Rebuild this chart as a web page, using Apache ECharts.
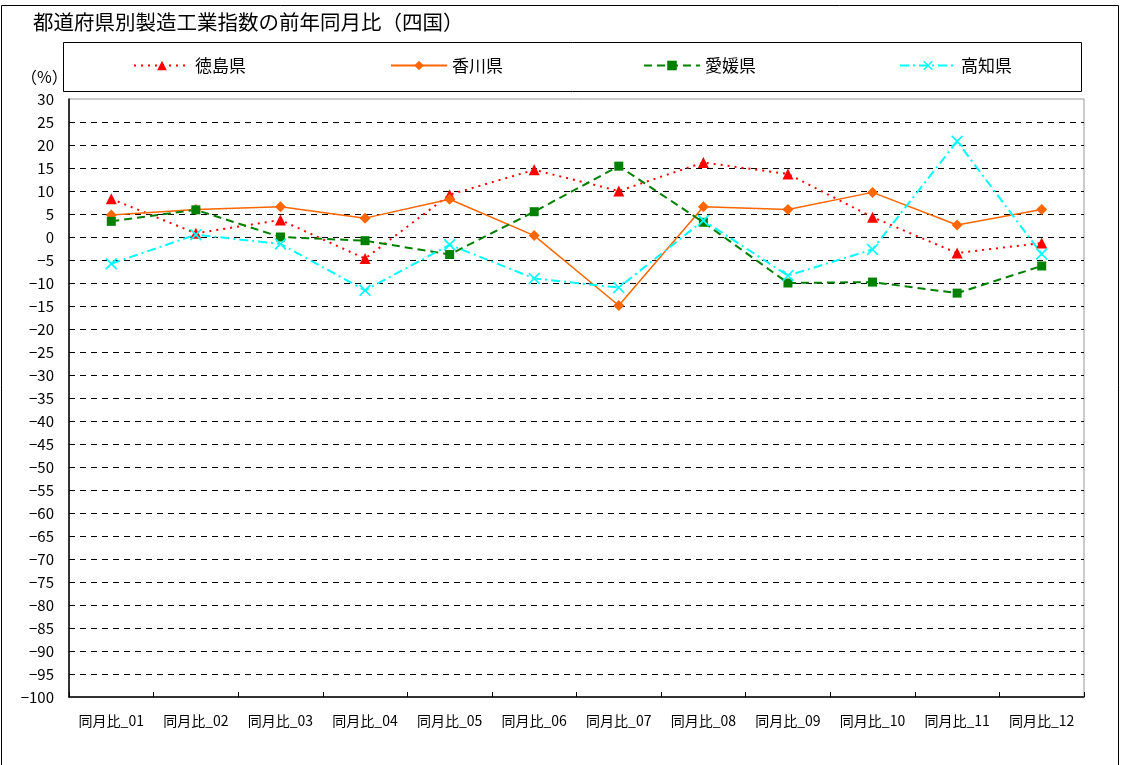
<!DOCTYPE html>
<html>
<head>
<meta charset="utf-8">
<script src="https://cdn.jsdelivr.net/npm/echarts@6/dist/echarts.min.js"></script>
<style>
  html, body { margin: 0; padding: 0; background: #fff; }
  #chart { width: 1122px; height: 765px; }
</style>
</head>
<body>
<div id="chart"></div>
<script>
// 月ラベル
const months = ['同月比_01', '同月比_02', '同月比_03', '同月比_04', '同月比_05', '同月比_06',
                '同月比_07', '同月比_08', '同月比_09', '同月比_10', '同月比_11', '同月比_12'];

// 前年同月比（%）
const tokushima = [8.3, 0.8, 3.7, -4.7, 9.2, 14.6, 10.0, 16.2, 13.7, 4.3, -3.5, -1.3];
const kagawa    = [4.8, 6.0, 6.6, 4.1, 8.2, 0.3, -14.9, 6.6, 6.0, 9.7, 2.6, 6.0];
const ehime     = [3.4, 5.9, 0.0, -0.8, -3.8, 5.5, 15.4, 3.2, -10.0, -9.8, -12.2, -6.3];
const kochi     = [-5.8, 0.5, -1.5, -11.6, -1.7, -9.0, -11.0, 3.6, -8.4, -2.7, 20.8, -3.7];

const seriesNames = ['徳島県', '香川県', '愛媛県', '高知県'];

// 縦軸の範囲
const yMin = -100, yMax = 30, yStep = 5;

const FONT = '"Noto Sans CJK JP", "Noto Sans", sans-serif';

// ×印マーカー
const crossPath = 'path://M0,1L1,0L5,4L9,0L10,1L6,5L10,9L9,10L5,6L1,10L0,9L4,5Z';

const chart = echarts.init(document.getElementById('chart'), null, { renderer: 'canvas' });

function legendAt(name, left) {
  return {
    data: [name],
    left: left,
    top: 57,
    padding: 0,
    itemWidth: 56,
    itemHeight: 12,
    itemGap: 8,
    textStyle: { fontFamily: FONT, fontSize: 17, color: '#000' },
    selectedMode: false
  };
}

const option = {
  backgroundColor: '#fff',
  animation: false,
  textStyle: { fontFamily: FONT },
  title: {
    text: '都道府県別製造工業指数の前年同月比（四国）',
    left: 28,
    top: 7,
    textStyle: { fontFamily: FONT, fontSize: 20.5, fontWeight: 'normal', color: '#000' }
  },
  graphic: [
    {
      type: 'rect', silent: true, z: -10,
      shape: { x: 1.5, y: 5.5, width: 1117, height: 770 },
      style: { fill: '#fff', stroke: '#000', lineWidth: 1 }
    },
    {
      type: 'rect', silent: true, z: -5,
      shape: { x: 63.5, y: 42.5, width: 1018, height: 49 },
      style: { fill: 'none', stroke: '#000', lineWidth: 1 }
    },
    {
      type: 'text', silent: true,
      left: 21, top: 69,
      style: { text: '（%）', fontFamily: FONT, fontSize: 16, fill: '#000' }
    }
  ],
  legend: [
    legendAt(seriesNames[0], 133),
    legendAt(seriesNames[1], 390),
    legendAt(seriesNames[2], 643),
    legendAt(seriesNames[3], 899)
  ],
  grid: {
    left: 69, top: 99, right: 38, bottom: 68,
    show: true, borderColor: '#999', borderWidth: 1, backgroundColor: 'transparent'
  },
  xAxis: {
    type: 'category',
    data: months,
    boundaryGap: true,
    axisLine: { show: true, onZero: false, lineStyle: { color: '#000', width: 1.5 } },
    axisTick: { show: true, inside: true, length: 5, lineStyle: { color: '#000' } },
    axisLabel: { fontFamily: FONT, fontSize: 14, color: '#000', margin: 17, interval: 0 },
    splitLine: { show: false }
  },
  yAxis: {
    type: 'value',
    min: yMin, max: yMax, interval: yStep,
    axisLine: { show: true, lineStyle: { color: '#000', width: 1.5 } },
    axisTick: { show: false },
    axisLabel: {
      fontFamily: FONT, fontSize: 15, color: '#000', margin: 15,
      formatter: v => (v < 0 ? '−' + Math.abs(v) : String(v))
    },
    splitLine: {
      show: true, showMinLine: false, showMaxLine: false,
      lineStyle: { color: '#000', width: 1, type: [6, 5] }
    }
  },
  series: [
    {
      name: seriesNames[0], type: 'line', data: tokushima,
      symbol: 'triangle', symbolSize: 11,
      lineStyle: { color: '#ff0000', width: 2, type: [2, 5] },
      itemStyle: { color: '#ff0000' }
    },
    {
      name: seriesNames[1], type: 'line', data: kagawa,
      symbol: 'diamond', symbolSize: 11,
      lineStyle: { color: '#ff6600', width: 1.5, type: 'solid' },
      itemStyle: { color: '#ff6600' }
    },
    {
      name: seriesNames[2], type: 'line', data: ehime,
      symbol: 'rect', symbolSize: 9,
      lineStyle: { color: '#008000', width: 2, type: [8, 5] },
      itemStyle: { color: '#008000' }
    },
    {
      name: seriesNames[3], type: 'line', data: kochi,
      symbol: crossPath, symbolSize: 12,
      lineStyle: { color: '#00ffff', width: 2, type: [9, 4, 2, 4] },
      itemStyle: { color: '#00ffff' }
    }
  ]
};

chart.setOption(option);
</script>
</body>
</html>
